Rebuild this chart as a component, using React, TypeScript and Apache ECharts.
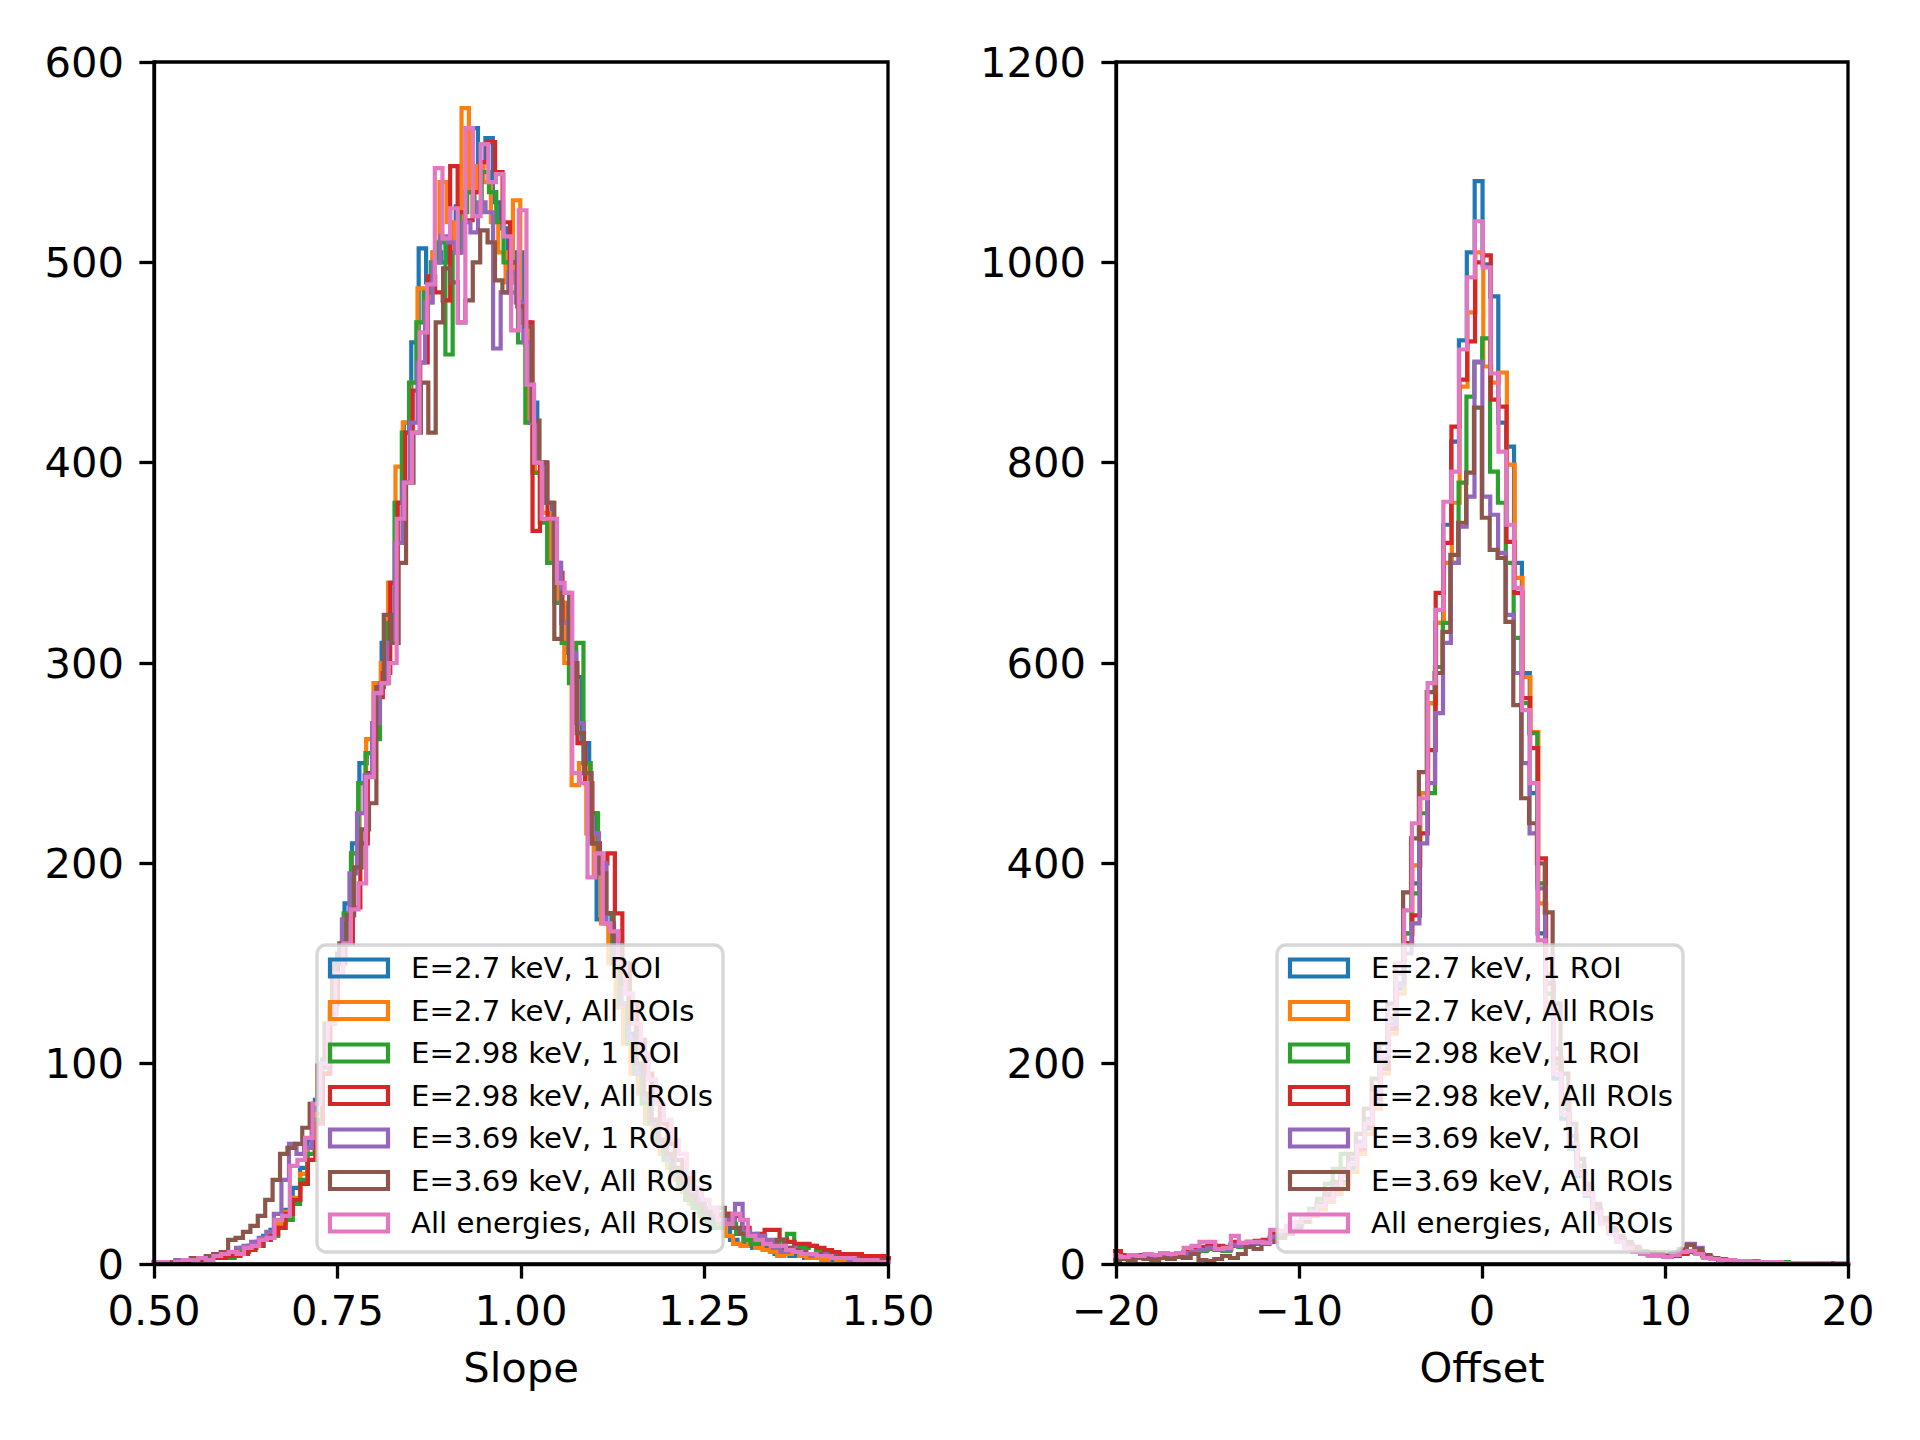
import React, { useEffect, useRef } from "react";
import * as echarts from "echarts";

const seriesNames = [
  "E=2.7 keV, 1 ROI",
  "E=2.7 keV, All ROIs",
  "E=2.98 keV, 1 ROI",
  "E=2.98 keV, All ROIs",
  "E=3.69 keV, 1 ROI",
  "E=3.69 keV, All ROIs",
  "All energies, All ROIs",
];
const seriesColors = ["#1f77b4", "#ff7f0e", "#2ca02c", "#d62728", "#9467bd", "#8c564b", "#e377c2"];

// Slope panel: bin start and width for each series
const slopeStarts = [0.497, 0.499, 0.501, 0.4955, 0.4985, 0.5, 0.4978];
const slopeWidths = [0.0101, 0.01, 0.0099, 0.0102, 0.0103, 0.0101, 0.0104];

const slopeBlue = [1,0,1,1,2,2,3,3,4,4,
 5,6,8,9,11,14,17,21,27,38,
 48,62,82,102,130,155,180,210,250,255,
 285,310,340,380,420,460,507,490,505,500,
 512,528,535,567,550,562,530,517,495,505,
 470,430,400,380,350,330,305,293,260,225,
 172,175,150,130,115,98,85,72,62,55,
 48,40,35,30,25,20,18,22,12,10,
 9,8,9,7,5,6,4,4,3,3,
 3,2,2,2,1,1,1,1,0,1];
const slopeOrange = [0,1,1,2,1,2,3,2,3,4,
 5,6,7,9,10,13,15,20,26,33,
 45,58,75,98,128,150,172,205,240,262,
 290,300,340,398,420,440,487,480,505,540,
 520,505,577,535,548,540,520,505,490,531,
 470,420,395,375,350,330,300,239,250,215,
 195,170,150,128,110,95,85,70,62,55,
 48,42,36,30,26,22,18,20,14,10,
 9,10,8,7,6,4,5,6,4,3,
 3,2,3,2,1,2,1,1,1,0];
const slopeGreen = [0,1,1,1,2,2,2,3,3,4,
 3,5,6,8,9,12,14,18,22,30,
 42,55,72,95,125,150,175,205,240,255,
 262,290,320,380,415,440,470,485,500,510,
 454,505,525,535,525,545,535,520,500,485,
 460,420,395,370,350,330,310,290,310,250,
 225,200,175,150,130,110,95,80,70,60,
 52,45,38,32,28,24,20,18,25,20,
 15,12,10,12,11,10,12,15,9,8,
 9,7,6,6,5,4,3,4,3,2];
const slopeRed = [0,0,1,1,1,2,2,2,3,3,
 4,4,5,7,9,12,15,18,25,32,
 40,52,70,95,130,150,160,178,210,245,
 283,295,340,380,415,436,450,493,485,481,
 548,525,521,535,550,560,545,520,500,480,
 470,366,400,372,345,320,300,260,240,210,
 200,205,175,150,130,112,95,82,70,60,
 52,45,38,32,28,24,22,25,24,18,
 14,15,17,17,12,11,10,10,9,8,
 7,6,5,5,5,4,4,4,3,3];
const slopePurple = [1,1,1,2,2,3,3,4,5,5,
 6,8,9,11,13,16,25,42,60,55,
 58,80,98,120,150,172,195,225,244,270,
 290,310,360,390,420,450,480,500,513,510,
 505,520,515,530,525,457,485,495,480,460,
 420,400,380,350,320,305,270,245,215,200,
 170,150,130,112,95,82,70,60,52,45,
 40,35,30,26,22,20,22,30,16,15,
 14,12,8,6,8,6,5,4,5,4,
 3,3,2,2,2,1,2,1,1,1];
const slopeBrown = [1,1,1,1,2,3,3,4,5,6,
 12,13,16,19,24,32,42,55,58,60,
 68,80,99,120,150,160,174,198,217,230,
 288,324,310,350,390,415,440,415,470,497,
 490,470,481,500,516,510,491,485,500,478,
 468,421,400,380,312,335,300,265,245,210,
 195,175,160,140,120,100,85,72,62,55,
 48,40,34,30,26,22,28,24,18,15,
 14,12,10,9,12,8,7,6,5,5,
 4,4,3,3,3,2,2,2,2,1];
const slopePink = [1,1,0,1,2,2,3,2,4,5,
 6,5,8,9,12,13,22,24,49,52,
 63,80,100,120,145,160,177,190,243,285,
 290,300,372,390,415,465,489,547,512,527,
 470,567,523,559,540,544,513,466,526,439,
 400,372,372,340,335,245,240,193,205,170,
 166,150,135,120,105,92,80,72,62,55,
 45,38,32,28,22,20,25,22,14,12,
 10,9,9,7,6,5,5,4,4,3,
 3,3,2,2,2,1,1,1,1,0];

// Offset panel
const offsetStarts = [-21.04, -21.0, -21.06, -21.02, -21.05, -21.08, -21.03];
const offsetWidths = [0.43, 0.43, 0.43, 0.43, 0.43, 0.43, 0.43];

const offsetBlue = [6,7,8,6,8,7,9,8,9,10,
 10,12,14,15,17,16,14,20,19,20,
 21,22,28,30,34,38,44,50,56,64,
 72,82,96,112,135,160,195,235,275,320,
 380,470,560,640,738,821,922,1010,1081,998,
 966,840,816,700,590,470,330,250,185,145,
 115,88,68,52,40,31,24,18,14,11,
 9,8,7,8,10,13,11,7,5,4,
 4,3,3,2,2,2,1,1,1,1,
 1,1,1,0,1,0,0,0];
const offsetOrange = [5,6,7,6,7,8,7,9,8,9,
 10,11,13,14,16,15,15,19,18,20,
 20,22,27,30,33,37,42,48,55,62,
 70,80,92,110,130,155,190,230,270,330,
 398,470,560,640,700,760,876,950,1010,896,
 880,890,798,685,586,531,360,260,195,150,
 118,90,70,54,42,32,25,19,15,12,
 10,8,8,9,11,12,10,7,5,4,
 4,3,2,3,2,2,1,1,1,1,
 1,0,1,1,0,0,0,0];
const offsetGreen = [4,5,6,5,6,7,6,8,7,8,
 9,10,12,13,15,14,13,18,17,19,
 20,21,26,29,33,38,45,55,65,80,
 95,110,105,120,140,165,200,245,290,330,
 370,450,470,596,640,700,780,866,900,924,
 791,760,700,625,560,530,380,270,200,155,
 120,92,72,55,43,33,26,20,15,12,
 10,9,8,9,11,13,11,8,6,4,
 4,3,3,2,2,2,1,2,1,1,
 1,1,0,1,0,0,0,0];
const offsetRed = [7,10,13,9,8,9,8,9,10,9,
 11,12,15,17,19,18,17,22,20,22,
 23,24,30,32,36,40,46,52,60,68,
 78,88,100,115,138,165,195,235,280,320,
 348,430,513,670,720,836,883,921,1000,1007,
 863,856,721,670,565,515,405,280,205,160,
 120,90,70,54,42,32,25,19,14,11,
 9,8,7,8,10,12,10,7,5,4,
 3,3,3,2,2,2,1,1,1,1,
 1,1,0,1,0,0,0,0];
const offsetPurple = [5,6,7,6,7,7,8,8,9,9,
 10,11,13,14,16,15,14,19,18,20,
 21,22,27,30,34,39,45,52,60,70,
 80,92,105,122,145,172,205,240,280,310,
 340,420,480,550,620,700,736,766,901,766,
 748,710,648,590,500,430,375,290,215,165,
 128,98,76,58,45,35,27,21,16,13,
 10,9,8,10,14,20,16,9,6,5,
 4,3,3,3,2,2,2,1,1,1,
 1,1,1,0,1,0,0,0];
const offsetBrown = [3,4,3,5,4,6,5,4,6,5,
 7,6,10,4,3,5,8,6,10,17,
 15,20,22,26,30,35,42,50,60,70,
 82,95,110,130,155,185,220,260,300,371,
 425,491,571,590,631,708,740,790,855,745,
 713,705,641,558,465,440,400,351,260,190,
 140,105,80,60,46,36,28,22,17,13,
 11,10,9,11,15,19,15,9,6,5,
 4,3,3,2,2,2,1,1,1,1,
 1,1,0,1,0,0,0,0];
const offsetPink = [8,9,8,7,9,8,10,9,11,10,
 11,16,18,22,22,15,16,28,21,22,
 22,21,34,33,38,42,46,52,58,65,
 75,88,100,118,140,170,210,255,300,353,
 440,465,580,653,761,791,913,985,1041,995,
 889,811,738,675,553,480,323,250,190,150,
 120,90,70,52,40,30,22,16,12,10,
 8,8,7,9,12,13,10,6,5,4,
 4,3,3,2,2,2,2,1,1,1,
 1,1,1,0,1,0,0,0];

const slopeCounts = [slopeBlue, slopeOrange, slopeGreen, slopeRed, slopePurple, slopeBrown, slopePink];
const offsetCounts = [offsetBlue, offsetOrange, offsetGreen, offsetRed, offsetPurple, offsetBrown, offsetPink];

const slopeTicks = { min: 0.5, max: 1.5, interval: 0.25 };
const offsetTicks = { min: -20, max: 20, interval: 10 };
const slopeYTicks = { min: 0, max: 600, interval: 100 };
const offsetYTicks = { min: 0, max: 1200, interval: 200 };

function stepPoints(start: number, width: number, counts: number[]) {
  const pts: number[][] = [[start, 0]];
  counts.forEach((c, i) => {
    const a = start + i * width;
    pts.push([a, c], [a + width, c]);
  });
  pts.push([start + counts.length * width, 0]);
  return pts;
}

const FONT = "DejaVu Sans";
const TICK_FS = 41.7;

function axisStyle(labelMargin: number) {
  return {
    z: 50,
    axisLine: { show: true, onZero: false, lineStyle: { color: "#000", width: 3.3 } },
    axisTick: { show: true, inside: false, length: 14.6, lineStyle: { color: "#000", width: 3.3 } },
    axisLabel: {
      color: "#000",
      fontFamily: FONT,
      fontSize: TICK_FS,
      margin: labelMargin,
      lineHeight: 42,
      formatter: (v: number) => String(v),
    },
    splitLine: { show: false },
    nameTextStyle: { color: "#000", fontFamily: FONT, fontSize: TICK_FS, lineHeight: 42 },
  };
}

function legendGraphics(left: number) {
  const top = 945;
  const els: any[] = [
    {
      type: "rect",
      z: 100,
      shape: { x: left, y: top, width: 406, height: 307, r: 9 },
      style: { fill: "rgba(255,255,255,0.8)", stroke: "rgba(204,204,204,0.8)", lineWidth: 3.3 },
    },
  ];
  seriesNames.forEach((n, i) => {
    const cy = 968 + i * 42.5;
    els.push({
      type: "rect",
      z: 101,
      shape: { x: left + 13, y: cy - 8.5, width: 58, height: 17 },
      style: { fill: "rgba(0,0,0,0)", stroke: seriesColors[i], lineWidth: 4.2 },
    });
    els.push({
      type: "text",
      z: 101,
      x: left + 94,
      y: cy,
      style: {
        text: n,
        fontFamily: FONT,
        fontSize: 29.2,
        fill: "#000",
        align: "left",
        verticalAlign: "middle",
      },
    });
  });
  return els;
}

function buildOption() {
  const series: any[] = [];
  seriesNames.forEach((name, k) => {
    series.push({
      type: "line",
      name,
      xAxisIndex: 0,
      yAxisIndex: 0,
      z: 2 + k,
      data: stepPoints(slopeStarts[k], slopeWidths[k], slopeCounts[k]),
      symbol: "none",
      showSymbol: false,
      silent: true,
      clip: true,
      lineStyle: { color: seriesColors[k], width: 4.2, join: "miter" },
      itemStyle: { color: seriesColors[k] },
    });
  });
  seriesNames.forEach((name, k) => {
    series.push({
      type: "line",
      name,
      xAxisIndex: 1,
      yAxisIndex: 1,
      z: 2 + k,
      data: stepPoints(offsetStarts[k], offsetWidths[k], offsetCounts[k]),
      symbol: "none",
      showSymbol: false,
      silent: true,
      clip: true,
      lineStyle: { color: seriesColors[k], width: 4.2, join: "miter" },
      itemStyle: { color: seriesColors[k] },
    });
  });

  const xs = axisStyle(25);
  const ys = axisStyle(30);

  return {
    animation: false,
    backgroundColor: "#ffffff",
    textStyle: { fontFamily: FONT },
    grid: [
      { left: 154, top: 62, width: 734, height: 1202, show: true, z: 50, borderColor: "#000", borderWidth: 3.3, backgroundColor: "rgba(0,0,0,0)" },
      { left: 1116, top: 62, width: 732, height: 1202, show: true, z: 50, borderColor: "#000", borderWidth: 3.3, backgroundColor: "rgba(0,0,0,0)" },
    ],
    xAxis: [
      {
        ...xs,
        gridIndex: 0,
        type: "value",
        ...slopeTicks,
        name: "Slope",
        nameLocation: "middle",
        nameGap: 82,
        axisLabel: { ...xs.axisLabel, formatter: (v: number) => v.toFixed(2) },
      },
      {
        ...xs,
        gridIndex: 1,
        type: "value",
        ...offsetTicks,
        name: "Offset",
        nameLocation: "middle",
        nameGap: 82,
        axisLabel: {
          ...xs.axisLabel,
          formatter: (v: number) => (v < 0 ? "\u2212" + Math.abs(v) : String(v)),
        },
      },
    ],
    yAxis: [
      { ...ys, gridIndex: 0, type: "value", ...slopeYTicks },
      { ...ys, gridIndex: 1, type: "value", ...offsetYTicks },
    ],
    series,
    graphic: [...legendGraphics(317), ...legendGraphics(1277)],
  };
}

export default function App() {
  const ref = useRef<HTMLDivElement>(null);
  useEffect(() => {
    document.body.style.margin = "0";
    const chart = echarts.init(ref.current as HTMLDivElement, null, { renderer: "svg" });
    chart.setOption(buildOption() as any);
    return () => {
      chart.dispose();
    };
  }, []);
  return <div ref={ref} style={{ width: 1920, height: 1440, background: "#fff" }} />;
}
